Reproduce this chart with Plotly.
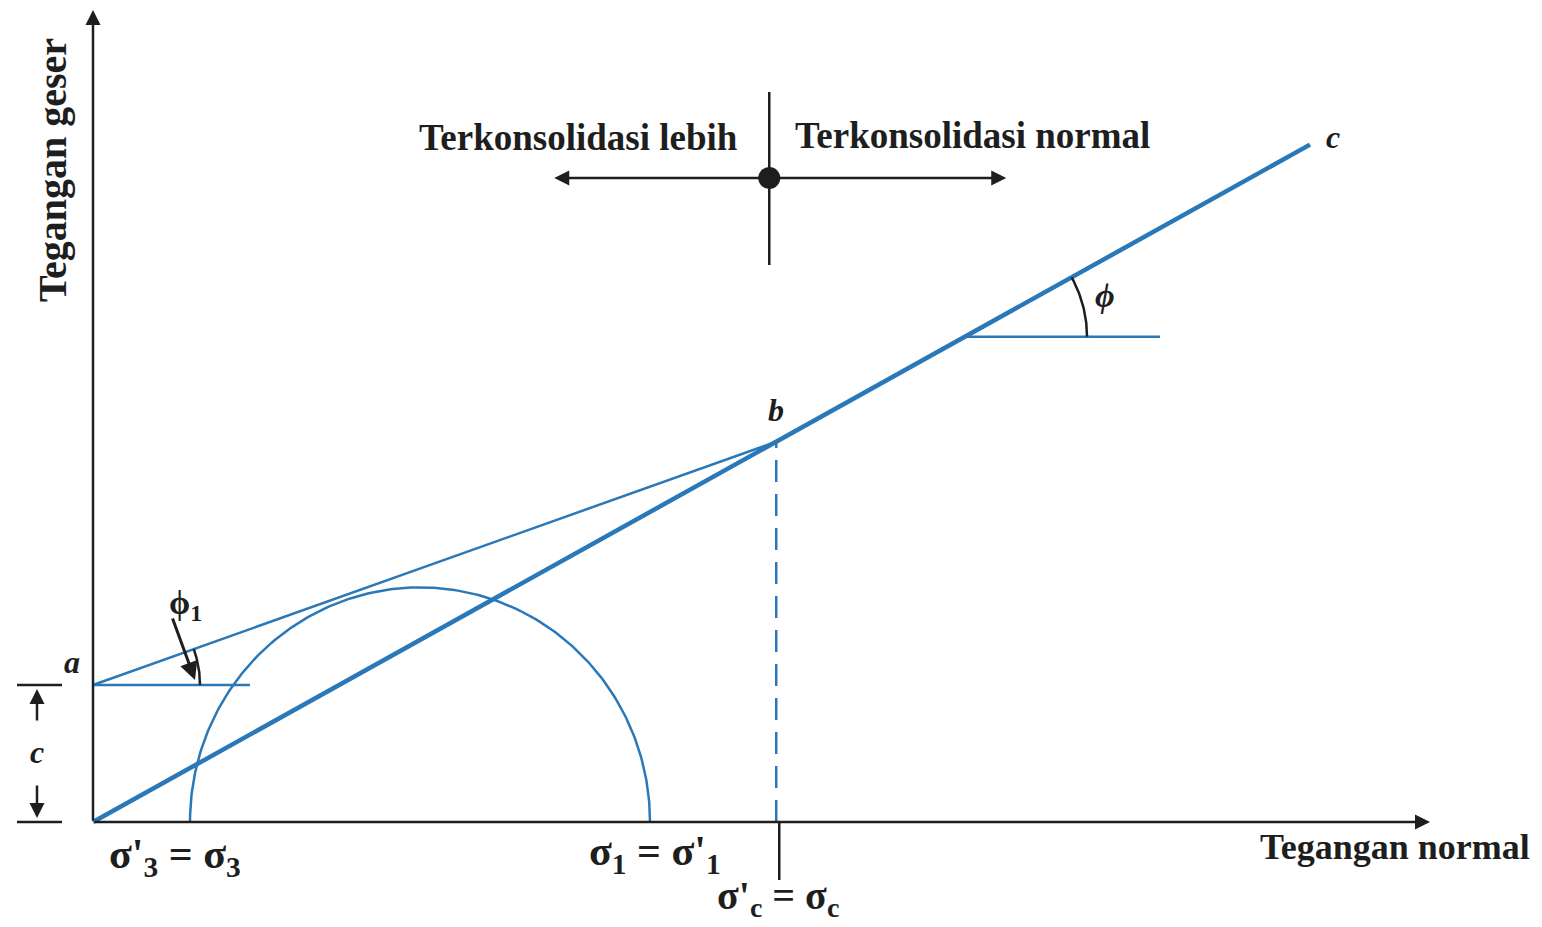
import numpy as np
import plotly.graph_objects as go

# ---- values (stress units) ----
cohesion = 137.0            # c (intercept of over-consolidated envelope)
phi_deg = 29.1              # friction angle, normally consolidated
phi1_deg = 19.6             # friction angle, over-consolidated
sigma3 = 97.0               # sigma'_3 = sigma_3
sigma1 = 557.0              # sigma_1 = sigma'_1
sigma_end = 1217.0          # end of envelope (point c)
x_axis_max = 1337.0
y_axis_max = 812.0

tan_phi = np.tan(np.radians(phi_deg))
tan_phi1 = np.tan(np.radians(phi1_deg))
sigma_c = cohesion / (tan_phi - tan_phi1)      # preconsolidation stress (point b)
tau_b = sigma_c * tan_phi

BLUE = "#2b78b8"
INK = "#1e1e1e"
FONT = "Liberation Serif"

fig = go.Figure()

# normally consolidated envelope O-b-c
xs = np.array([0.0, sigma_c, sigma_end])
fig.add_trace(go.Scatter(x=xs, y=xs * tan_phi, mode="lines",
                         line=dict(color=BLUE, width=4.5), hoverinfo="skip"))
# over-consolidated envelope a-b
xo = np.array([0.0, sigma_c])
fig.add_trace(go.Scatter(x=xo, y=cohesion + xo * tan_phi1, mode="lines",
                         line=dict(color=BLUE, width=2.5), hoverinfo="skip"))
# Mohr circle
center = (sigma1 + sigma3) / 2
radius = (sigma1 - sigma3) / 2
th = np.linspace(0, np.pi, 200)
fig.add_trace(go.Scatter(x=center + radius * np.cos(th), y=radius * np.sin(th) * 1.02,
                         mode="lines", line=dict(color=BLUE, width=2.5), hoverinfo="skip"))
# horizontal at a
fig.add_trace(go.Scatter(x=[0, 157], y=[cohesion, cohesion], mode="lines",
                         line=dict(color=BLUE, width=2.5), hoverinfo="skip"))
# phi1 arc
r1 = 107
t1 = np.linspace(0, np.radians(phi1_deg), 30)
fig.add_trace(go.Scatter(x=r1 * np.cos(t1), y=cohesion + r1 * np.sin(t1), mode="lines",
                         line=dict(color=INK, width=2.5), hoverinfo="skip"))
# phi construction
x0p = 872.0
y0p = x0p * tan_phi
fig.add_trace(go.Scatter(x=[x0p, x0p + 195], y=[y0p, y0p], mode="lines",
                         line=dict(color=BLUE, width=2.5), hoverinfo="skip"))
rp = 122
tp = np.linspace(0, np.radians(phi_deg), 30)
fig.add_trace(go.Scatter(x=x0p + rp * np.cos(tp), y=y0p + rp * np.sin(tp), mode="lines",
                         line=dict(color=INK, width=2.5), hoverinfo="skip"))
# dashed vertical from b
fig.add_trace(go.Scatter(x=[sigma_c, sigma_c], y=[0, tau_b], mode="lines",
                         line=dict(color=BLUE, width=2.5, dash="22px,12px"), hoverinfo="skip"))
# tick below axis at sigma_c
fig.add_trace(go.Scatter(x=[sigma_c + 3, sigma_c + 3], y=[0, -58], mode="lines",
                         line=dict(color=INK, width=2.5), hoverinfo="skip"))
# cohesion dimension ticks
for yy in [0, cohesion]:
    fig.add_trace(go.Scatter(x=[-76, -31], y=[yy, yy], mode="lines",
                             line=dict(color=INK, width=2.5), hoverinfo="skip"))
# top marker: vertical line and dot
xm = sigma_c - 7
fig.add_trace(go.Scatter(x=[xm, xm], y=[557, 730], mode="lines",
                         line=dict(color=INK, width=2.5), hoverinfo="skip"))
fig.add_trace(go.Scatter(x=[xm], y=[644], mode="markers",
                         marker=dict(color=INK, size=22), hoverinfo="skip"))

def arrow(x0, y0, x1, y1, width=2.5, head=2, size=1.2):
    fig.add_annotation(x=x1, y=y1, ax=x0, ay=y0, xref="x", yref="y", axref="x", ayref="y",
                       text="", showarrow=True, arrowhead=head, arrowsize=size,
                       arrowwidth=width, arrowcolor=INK, standoff=0, startstandoff=0)

# axes
arrow(0, 0, 0, y_axis_max)
arrow(0, 0, x_axis_max, 0)
# top double arrow
arrow(xm, 644, xm - 215, 644)
arrow(xm, 644, xm + 237, 644)
# cohesion arrows
arrow(-56, 100, -56, cohesion - 4)
arrow(-56, 38, -56, 4)
# phi1 pointer
arrow(79, 205, 102, 142, width=3)

def label(x, y, t, size=30, italic=False, angle=0):
    fig.add_annotation(x=x, y=y, xref="x", yref="y", text=t, showarrow=False,
                       textangle=angle,
                       font=dict(family=FONT, size=size, color=INK,
                                 style="italic" if italic else "normal", weight="bold"))

label(485, 685, "Terkonsolidasi lebih", size=37)
label(879, 687, "Terkonsolidasi normal", size=37)
label(1302, -25, "Tegangan normal", size=36)
label(-41, 652, "Tegangan geser", size=40, angle=-90)
label(82, -35, "σ'<sub>3</sub> = σ<sub>3</sub>", size=42)
label(562, -32, "σ<sub>1</sub> = σ'<sub>1</sub>", size=42)
label(685, -76, "σ'<sub>c</sub> = σ<sub>c</sub>", size=40)
label(-21, 160, "a", size=32, italic=True)
label(683, 412, "b", size=32, italic=True)
label(1240, 685, "c", size=32, italic=True)
label(-56, 70, "c", size=32, italic=True)
label(92, 217, "ϕ<sub>1</sub>", size=34)
label(1012, 527, "ϕ", size=34, italic=True)

fig.update_layout(
    width=1542, height=927, margin=dict(l=0, r=0, t=0, b=0),
    paper_bgcolor="white", plot_bgcolor="white", showlegend=False,
    xaxis=dict(range=[-93, 1449], visible=False, fixedrange=True),
    yaxis=dict(range=[-105, 822], visible=False, fixedrange=True),
)

fig.write_html("out.html")
